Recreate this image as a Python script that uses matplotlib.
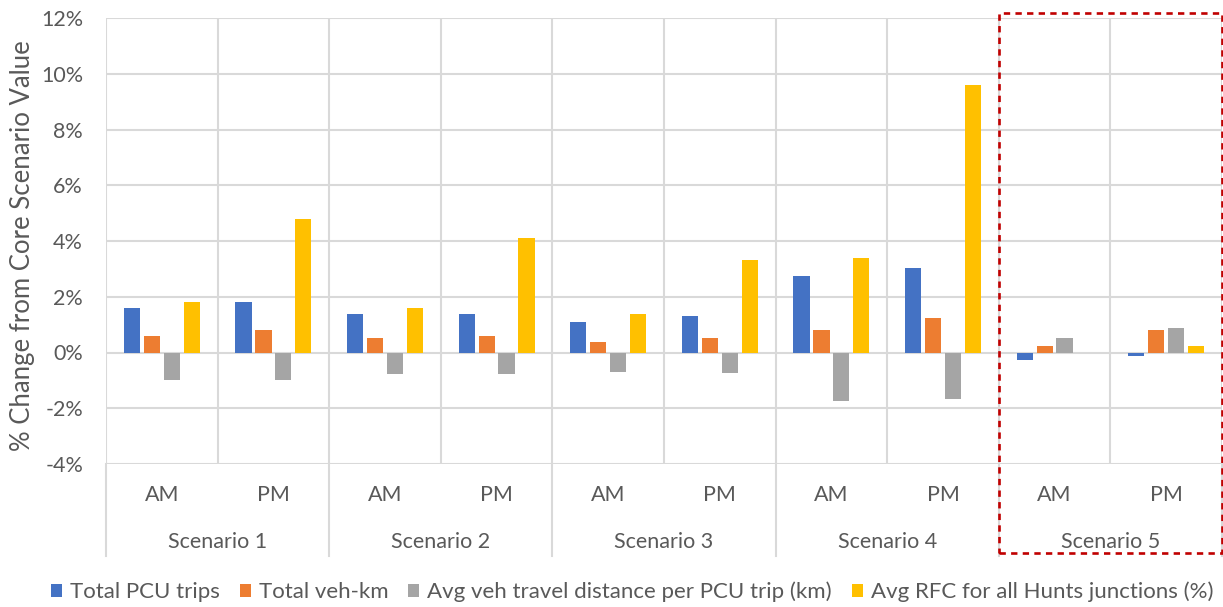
import matplotlib
matplotlib.use("Agg")
import matplotlib.pyplot as plt
import matplotlib.transforms as mtransforms
from matplotlib.patches import Rectangle, Patch
import numpy as np

plt.rcParams['font.family'] = ['Lato', 'DejaVu Sans']

scenarios = ['Scenario 1', 'Scenario 2', 'Scenario 3', 'Scenario 4', 'Scenario 5']
periods = ['AM', 'PM']
series_names = ['Total PCU trips', 'Total veh-km',
                'Avg veh travel distance per PCU trip (km)',
                'Avg RFC for all Hunts junctions (%)']

# % change, order: S1 AM, S1 PM, S2 AM, ... S5 PM
pcu_trips = [1.6, 1.8, 1.37, 1.37, 1.1, 1.31, 2.74, 3.03, -0.27, -0.13]
veh_km = [0.6, 0.8, 0.52, 0.58, 0.38, 0.53, 0.81, 1.24, 0.23, 0.8]
avg_dist = [-0.98, -0.98, -0.78, -0.78, -0.69, -0.75, -1.75, -1.68, 0.51, 0.87]
avg_rfc = [1.8, 4.78, 1.58, 4.1, 1.38, 3.32, 3.39, 9.58, 0.0, 0.23]

colors = ['#4472C4', '#ED7D31', '#A5A5A5', '#FFC000']
grid_col = '#D9D9D9'
text_col = '#595959'
fs = 15.5

fig = plt.figure(figsize=(12.23, 6.07), dpi=100)
ax = fig.add_axes([106 / 1223, 1 - 464 / 607, 1116 / 1223, 446 / 607])

n = len(pcu_trips)
x = np.arange(n) + 0.5
pitch = 0.179
width = 0.145
all_series = [pcu_trips, veh_km, avg_dist, avg_rfc]
for i, (vals, col) in enumerate(zip(all_series, colors)):
    ax.bar(x + (i - 1.5) * pitch, vals, width=width, color=col, zorder=3)

ax.set_xlim(0, n)
ax.set_ylim(-4, 12)
ax.set_yticks(np.arange(-4, 13, 2))
ax.set_yticklabels([f'{v}%' for v in range(-4, 13, 2)])
ax.set_xticks([])
for s in ax.spines.values():
    s.set_visible(False)
ax.tick_params(axis='y', length=0, labelsize=fs, labelcolor=text_col, pad=16.5)
ax.yaxis.grid(True, color=grid_col, linewidth=1.5, zorder=0)
for k in range(n + 1):
    ax.axvline(k, color=grid_col, linewidth=1.5, zorder=0)

ax.set_ylabel('% Change from Core Scenario Value', fontsize=18.5, color=text_col)
ax.yaxis.set_label_coords(-71 / 1116, 0.49)

trans = mtransforms.blended_transform_factory(ax.transData, ax.transAxes)
for k in range(n):
    ax.text(x[k], -0.0695, periods[k % 2], transform=trans, ha='center', va='center',
            fontsize=fs, color=text_col)
for j, name in enumerate(scenarios):
    ax.text(2 * j + 1, -0.175, name, transform=trans, ha='center', va='center',
            fontsize=fs, color=text_col)
for k in range(0, n + 1, 2):
    ax.plot([k, k], [0, -0.206], transform=trans, color=grid_col, linewidth=1.5,
            clip_on=False, zorder=0)

# highlight box around Scenario 5
box = Rectangle((8, -0.2), 2, 1.211, transform=trans, fill=False, edgecolor='#C00000',
                linewidth=1.9, linestyle=(0, (2.4, 2.0)), clip_on=False, zorder=5)
ax.add_patch(box)

handles = [Patch(facecolor=c) for c in colors]
fig.legend(handles, series_names, loc='center', bbox_to_anchor=(632 / 1223, 1 - 592 / 607),
           ncol=4, frameon=False, fontsize=16, labelcolor=text_col,
           handlelength=0.5, handleheight=0.55, handletextpad=0.35, columnspacing=0.9)

fig.savefig('out.png', dpi=100)
